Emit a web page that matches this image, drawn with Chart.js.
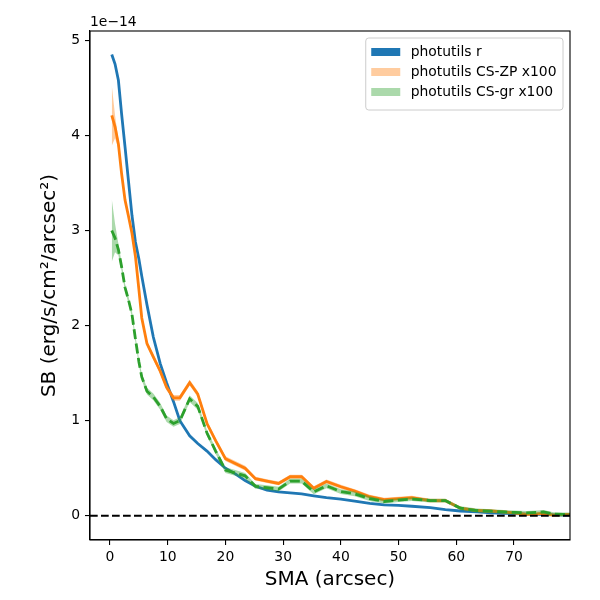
<!DOCTYPE html>
<html lang="en">
<head>
  <meta charset="UTF-8" />
  <title>SB profile</title>
  <script src="https://cdn.jsdelivr.net/npm/chart.js"></script>
  <style>
    body { margin: 0; background: #fff; }
    .box { width: 600px; height: 600px; }
  </style>
</head>
<body>
  <div class="box"><canvas id="sbChart"></canvas></div>

  <script>
    // semi-major axis (arcsec)
    const sma = [0.3, 0.87, 1.45, 2.0, 2.6, 3.2, 3.8, 4.4, 5.0, 5.5,
      6.4, 7.5, 8.7, 9.8, 11.0, 12.1, 13.8, 15.2, 16.8, 18.3,
      20.0, 21.7, 23.4, 25.2, 27.2, 29.2, 31.2, 33.2, 35.3, 37.5,
      40.0, 42.4, 45.0, 47.5, 50.0, 52.3, 55.5, 58.1, 60.7, 63.6,
      66.0, 68.2, 70.0, 72.2, 74.0, 75.1, 76.8, 78.5, 79.7];

    // surface brightness, units of 1e-14
    const sbR = [4.85, 4.75, 4.58, 4.23, 3.88, 3.52, 3.16, 2.88, 2.70, 2.52,
      2.22, 1.88, 1.60, 1.40, 1.20, 1.00, 0.84, 0.76, 0.68, 0.59,
      0.50, 0.44, 0.37, 0.31, 0.27, 0.25, 0.24, 0.23, 0.21, 0.19,
      0.175, 0.155, 0.13, 0.115, 0.11, 0.10, 0.085, 0.065, 0.05, 0.04,
      0.03, 0.025, 0.022, 0.018, 0.015, 0.013, 0.01, 0.008, 0.007];

    const sbZP = [4.21, 4.09, 3.91, 3.60, 3.32, 3.15, 2.97, 2.73, 2.38, 2.08,
      1.81, 1.67, 1.52, 1.35, 1.24, 1.24, 1.40, 1.28, 0.97, 0.79,
      0.60, 0.55, 0.50, 0.39, 0.365, 0.34, 0.41, 0.41, 0.29, 0.36,
      0.305, 0.26, 0.20, 0.17, 0.18, 0.19, 0.16, 0.16, 0.08, 0.055,
      0.05, 0.04, 0.03, 0.015, 0.02, 0.025, 0.007, 0.012, 0.015];
    const errZP = [0.32, 0.12, 0.05, 0.04, 0.035, 0.03, 0.03, 0.03, 0.03, 0.03,
      0.03, 0.03, 0.03, 0.03, 0.03, 0.03, 0.03, 0.03, 0.03, 0.025,
      0.025, 0.025, 0.025, 0.02, 0.02, 0.02, 0.02, 0.02, 0.02, 0.02,
      0.02, 0.02, 0.02, 0.02, 0.02, 0.02, 0.02, 0.02, 0.015, 0.015,
      0.015, 0.015, 0.015, 0.015, 0.015, 0.015, 0.015, 0.015, 0.015];

    const sbGR = [3.00, 2.92, 2.80, 2.62, 2.40, 2.27, 2.12, 1.86, 1.62, 1.46,
      1.31, 1.25, 1.15, 1.02, 0.97, 1.00, 1.23, 1.15, 0.87, 0.68,
      0.48, 0.45, 0.42, 0.31, 0.295, 0.28, 0.365, 0.365, 0.25, 0.315,
      0.255, 0.23, 0.18, 0.15, 0.165, 0.175, 0.16, 0.16, 0.08, 0.055,
      0.048, 0.04, 0.035, 0.03, 0.035, 0.04, 0.018, 0.015, 0.015];
    const errGR = [0.33, 0.15, 0.06, 0.045, 0.04, 0.035, 0.035, 0.035, 0.035, 0.035,
      0.035, 0.035, 0.035, 0.035, 0.035, 0.035, 0.035, 0.035, 0.03, 0.03,
      0.03, 0.03, 0.03, 0.025, 0.025, 0.025, 0.025, 0.025, 0.025, 0.025,
      0.025, 0.025, 0.025, 0.02, 0.02, 0.02, 0.02, 0.02, 0.02, 0.02,
      0.02, 0.02, 0.02, 0.02, 0.02, 0.02, 0.02, 0.02, 0.02];

    const xTicks = [0, 10, 20, 30, 40, 50, 60, 70];
    const yTicks = [0, 1, 2, 3, 4, 5];

    const FONT = "'DejaVu Sans', sans-serif";
    Chart.defaults.font.family = FONT;
    Chart.defaults.color = '#000';

    const pts = ys => sma.map((x, i) => ({ x, y: ys[i] }));
    const hidden = 'rgba(0,0,0,0)';

    // matplotlib-like extras: frame, y=0 line, offset text and the legend box
    const extras = {
      id: 'extras',
      afterDatasetsDraw(chart) {
        const { ctx, chartArea: ca, scales } = chart;
        const y0 = scales.y.getPixelForValue(0);
        ctx.save();
        ctx.beginPath();
        ctx.rect(ca.left, ca.top, ca.right - ca.left, ca.bottom - ca.top);
        ctx.clip();
        ctx.strokeStyle = '#000';
        ctx.lineWidth = 2;
        ctx.setLineDash([7.7, 3.3]);
        ctx.beginPath();
        ctx.moveTo(ca.left, y0);
        ctx.lineTo(ca.right, y0);
        ctx.stroke();
        ctx.restore();
      },
      afterDraw(chart) {
        const { ctx, chartArea: ca } = chart;
        ctx.save();
        ctx.strokeStyle = '#000';
        ctx.lineWidth = 1.1;
        ctx.strokeRect(ca.left, ca.top, ca.right - ca.left, ca.bottom - ca.top);

        ctx.font = '13.9px ' + FONT;
        ctx.fillStyle = '#000';
        ctx.textBaseline = 'alphabetic';
        ctx.textAlign = 'left';
        ctx.fillText('1e\u221214', ca.left, ca.top - 5);

        // legend
        const items = chart.data.datasets.filter(d => d.legendFill);
        const textW = Math.max(...items.map(d => ctx.measureText(d.label).width));
        const w = 5.5 + 29 + 10 + textW + 7;
        const h = 12 + items.length * 20;
        const bx = ca.right - 7 - w, by = ca.top + 7;
        ctx.fillStyle = 'rgba(255,255,255,0.8)';
        ctx.strokeStyle = '#cccccc';
        ctx.lineWidth = 1;
        ctx.beginPath();
        ctx.roundRect(bx, by, w, h, 3);
        ctx.fill();
        ctx.stroke();
        ctx.textBaseline = 'middle';
        items.forEach((d, i) => {
          const cy = by + 14 + i * 20;
          ctx.fillStyle = d.legendFill;
          ctx.fillRect(bx + 5.5, cy - 4, 29, 8);
          ctx.fillStyle = '#000';
          ctx.fillText(d.label, bx + 5.5 + 29 + 10.5, cy);
        });
        ctx.restore();
      }
    };

    new Chart(document.getElementById('sbChart'), {
      type: 'line',
      data: {
        datasets: [
          { label: 'photutils r', data: pts(sbR), borderColor: '#1f77b4', borderWidth: 2.8,
            fill: false, order: 6, legendFill: '#1f77b4' },

          { label: 'photutils CS-ZP x100', data: pts(sbZP.map((v, i) => v + errZP[i])),
            borderColor: hidden, borderWidth: 0, backgroundColor: 'rgba(255,127,14,0.4)',
            fill: '+1', order: 4, legendFill: 'rgba(255,127,14,0.4)' },
          { data: pts(sbZP.map((v, i) => v - errZP[i])), borderColor: hidden, borderWidth: 0,
            fill: false, order: 5 },
          { data: pts(sbZP), borderColor: '#ff7f0e', borderWidth: 2.8, fill: false, order: 3 },

          { label: 'photutils CS-gr x100', data: pts(sbGR.map((v, i) => v + errGR[i])),
            borderColor: hidden, borderWidth: 0, backgroundColor: 'rgba(44,160,44,0.4)',
            fill: '+1', order: 1, legendFill: 'rgba(44,160,44,0.4)' },
          { data: pts(sbGR.map((v, i) => v - errGR[i])), borderColor: hidden, borderWidth: 0,
            fill: false, order: 2 },
          { data: pts(sbGR), borderColor: '#2ca02c', borderWidth: 2.8, borderDash: [10, 4.5],
            fill: false, order: 0 }
        ]
      },
      options: {
        responsive: true,
        maintainAspectRatio: false,
        animation: false,
        elements: { point: { radius: 0, hoverRadius: 0 }, line: { tension: 0 } },
        layout: { padding: { top: 31, right: 30, left: 0, bottom: 0 } },
        plugins: { legend: { display: false }, tooltip: { enabled: false } },
        scales: {
          x: {
            type: 'linear',
            min: -3.47,
            max: 79.7,
            afterBuildTicks: s => { s.ticks = xTicks.map(v => ({ value: v })); },
            afterFit: s => { s.height = 60; },
            ticks: { font: { size: 13.9 }, padding: 4, maxRotation: 0, callback: v => String(v) },
            grid: { drawOnChartArea: false, drawTicks: true, tickLength: 5, color: '#000', lineWidth: 1.1 },
            border: { display: true, color: '#000', width: 1.1 },
            title: { display: true, text: 'SMA (arcsec)', font: { size: 20 }, padding: { top: 0, bottom: 8 } }
          },
          y: {
            type: 'linear',
            min: -0.255,
            max: 5.098,
            afterBuildTicks: s => { s.ticks = yTicks.map(v => ({ value: v })); },
            afterFit: s => { s.width = 90; },
            ticks: { font: { size: 13.9 }, padding: 5, callback: v => String(v) },
            grid: { drawOnChartArea: false, drawTicks: true, tickLength: 5, color: '#000', lineWidth: 1.1 },
            border: { display: true, color: '#000', width: 1.1 },
            title: { display: true, text: 'SB (erg/s/cm\u00b2/arcsec\u00b2)', font: { size: 20 }, padding: { top: 38, bottom: 0 } }
          }
        }
      },
      plugins: [extras]
    });
  </script>
</body>
</html>
